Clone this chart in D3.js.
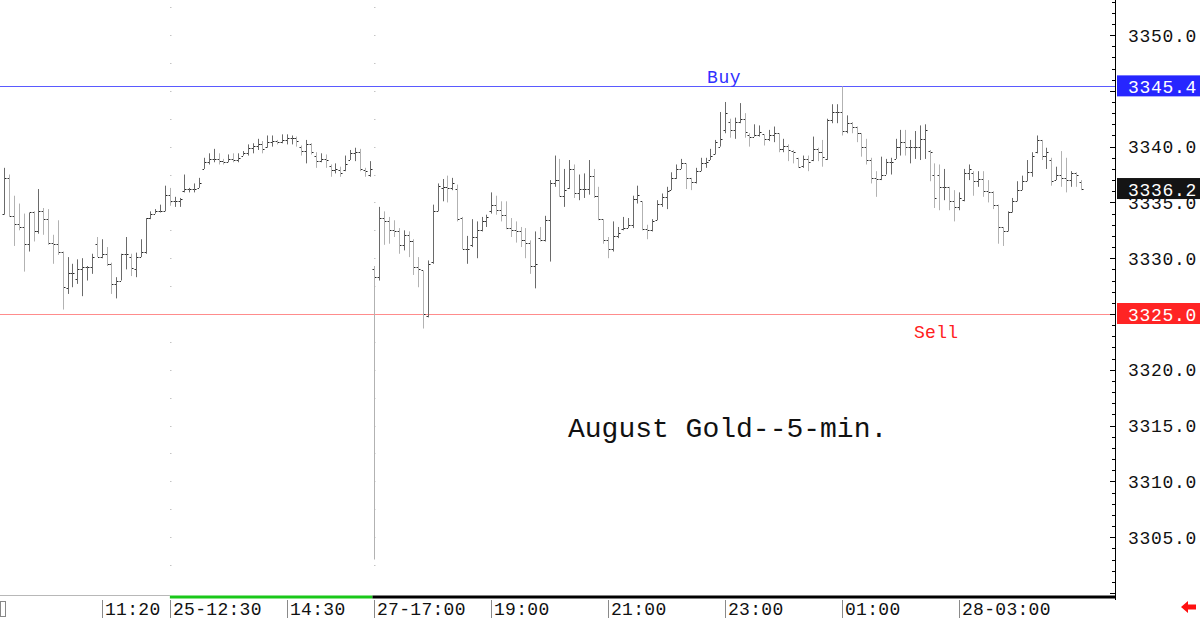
<!DOCTYPE html>
<html>
<head>
<meta charset="utf-8">
<script src="https://cdn.jsdelivr.net/npm/d3@7"></script>
<style>
  body { margin: 0; background: #fff; }
  svg { display: block; }
  text { font-family: "Liberation Mono", "DejaVu Sans Mono", monospace; }
</style>
</head>
<body>
<div id="chart"></div>
<script>
// 5-min bars, [open, high, low, close]; first session 25th 09:40 - 15:55
const sessionA = [
  [3334.0, 3338.1, 3333.9, 3337.2], [3337.2, 3337.5, 3333.7, 3333.8], [3333.8, 3335.6, 3331.1, 3333.1],
  [3333.1, 3334.9, 3332.5, 3332.8], [3332.8, 3334.0, 3328.8, 3331.3], [3331.3, 3334.1, 3330.6, 3334.1],
  [3334.1, 3334.2, 3331.5, 3332.4], [3332.4, 3336.2, 3332.2, 3334.2], [3334.2, 3334.5, 3332.1, 3333.5],
  [3333.5, 3334.4, 3331.2, 3331.4], [3331.4, 3332.1, 3329.5, 3331.3], [3331.3, 3333.4, 3330.3, 3330.6],
  [3330.6, 3330.6, 3325.4, 3327.4], [3327.3, 3330.1, 3326.8, 3328.7], [3328.7, 3329.5, 3327.4, 3328.7],
  [3328.1, 3329.9, 3327.7, 3329.0], [3329.0, 3330.0, 3326.6, 3329.2], [3329.2, 3329.3, 3328.0, 3329.2],
  [3329.2, 3330.4, 3328.6, 3330.1], [3331.3, 3331.9, 3330.1, 3330.1], [3330.1, 3331.7, 3330.0, 3330.4],
  [3330.4, 3331.0, 3329.3, 3329.5], [3329.5, 3329.6, 3326.8, 3327.7], [3327.7, 3328.3, 3326.4, 3328.0],
  [3328.0, 3330.4, 3328.0, 3330.4], [3330.4, 3331.9, 3329.0, 3330.4], [3330.1, 3330.4, 3328.4, 3329.1],
  [3329.0, 3330.5, 3328.3, 3330.1], [3330.1, 3331.7, 3330.1, 3330.6], [3330.6, 3333.6, 3330.4, 3333.6],
  [3333.6, 3334.2, 3333.5, 3334.0], [3334.0, 3334.4, 3334.0, 3334.2], [3334.2, 3334.8, 3334.1, 3334.2],
  [3334.2, 3336.5, 3334.2, 3335.7], [3335.7, 3336.3, 3334.7, 3335.1], [3335.1, 3335.5, 3334.6, 3335.1],
  [3335.1, 3335.4, 3334.6, 3335.3], [3336.0, 3337.5, 3335.9, 3336.2], [3336.2, 3336.3, 3335.9, 3336.2],
  [3336.2, 3336.7, 3335.9, 3336.2], [3336.3, 3337.2, 3336.3, 3336.7], [3338.0, 3339.0, 3338.0, 3338.6],
  [3338.6, 3339.4, 3338.4, 3338.9], [3338.9, 3339.8, 3338.6, 3338.9], [3338.9, 3339.4, 3338.4, 3338.7],
  [3338.7, 3338.9, 3338.4, 3338.6], [3338.6, 3339.3, 3338.6, 3338.9], [3338.9, 3339.4, 3338.6, 3338.8],
  [3338.8, 3339.4, 3338.6, 3339.0], [3339.2, 3339.6, 3339.2, 3339.4], [3339.4, 3340.2, 3339.2, 3339.9],
  [3339.9, 3340.3, 3339.4, 3340.1], [3340.1, 3340.7, 3339.7, 3340.2], [3340.2, 3340.5, 3339.4, 3339.8],
  [3340.0, 3341.0, 3339.9, 3340.4], [3340.4, 3341.0, 3340.0, 3340.5], [3340.5, 3340.6, 3340.2, 3340.4],
  [3340.4, 3341.1, 3340.3, 3340.6], [3340.6, 3341.1, 3340.2, 3340.8], [3340.8, 3341.0, 3340.2, 3340.8],
  [3340.8, 3340.9, 3340.0, 3340.5], [3340.0, 3340.1, 3339.2, 3339.6], [3339.6, 3340.6, 3338.5, 3340.2],
  [3340.2, 3340.3, 3339.3, 3339.5], [3339.2, 3339.5, 3338.1, 3338.7], [3338.7, 3339.4, 3338.6, 3338.9],
  [3338.9, 3339.3, 3338.1, 3338.8], [3338.3, 3338.4, 3337.3, 3337.9], [3337.9, 3338.5, 3337.6, 3338.0],
  [3337.9, 3338.2, 3337.3, 3337.6], [3337.9, 3339.2, 3337.8, 3338.4], [3338.8, 3339.7, 3338.8, 3339.4],
  [3339.4, 3339.9, 3338.7, 3339.5], [3339.5, 3339.8, 3337.8, 3338.0], [3337.9, 3338.1, 3337.3, 3337.8],
  [3337.5, 3338.7, 3337.3, 3338.0]
];

// second session 27th 17:00 - 28th 05:05
const sessionB = [
  [3329.0, 3329.3, 3303.0, 3328.3], [3328.3, 3334.6, 3328.0, 3333.6], [3333.6, 3334.2, 3331.2, 3333.3],
  [3333.3, 3333.7, 3331.3, 3332.5], [3332.5, 3333.4, 3331.9, 3332.4], [3332.4, 3332.7, 3330.4, 3331.2],
  [3331.2, 3332.5, 3330.7, 3332.1], [3332.1, 3332.4, 3330.1, 3331.5], [3331.5, 3331.7, 3328.5, 3329.2],
  [3329.2, 3330.1, 3327.4, 3329.0], [3328.9, 3328.9, 3323.7, 3325.0], [3324.8, 3329.8, 3324.7, 3329.5],
  [3329.7, 3334.8, 3329.5, 3334.2], [3334.2, 3336.7, 3334.2, 3336.5], [3336.3, 3337.1, 3335.1, 3336.4],
  [3336.4, 3337.4, 3335.0, 3336.3], [3336.3, 3337.2, 3336.1, 3336.7], [3336.2, 3336.6, 3333.3, 3333.5],
  [3333.6, 3333.7, 3330.8, 3330.8], [3330.8, 3332.0, 3329.5, 3330.8], [3331.2, 3333.5, 3331.0, 3331.9],
  [3331.9, 3333.3, 3330.0, 3332.5], [3332.5, 3333.7, 3332.4, 3333.3], [3333.3, 3333.9, 3332.8, 3333.7],
  [3334.2, 3335.9, 3334.0, 3334.8], [3334.8, 3335.6, 3333.9, 3334.3], [3334.3, 3335.1, 3333.3, 3333.9],
  [3333.9, 3335.1, 3332.6, 3332.7], [3332.7, 3333.6, 3331.9, 3332.5], [3332.5, 3333.3, 3331.4, 3332.4],
  [3332.4, 3332.8, 3331.0, 3331.6], [3331.6, 3332.7, 3330.0, 3331.4], [3331.4, 3331.6, 3328.6, 3329.3],
  [3329.3, 3332.4, 3327.3, 3329.5], [3331.8, 3332.8, 3331.5, 3331.6], [3331.6, 3333.8, 3331.5, 3333.4],
  [3333.4, 3337.0, 3329.7, 3336.7], [3336.7, 3339.2, 3336.4, 3337.0], [3337.0, 3338.9, 3335.5, 3335.6],
  [3335.6, 3338.0, 3334.6, 3336.1], [3336.3, 3338.8, 3336.2, 3338.0], [3338.0, 3338.4, 3335.4, 3335.8],
  [3335.8, 3337.5, 3335.2, 3336.2], [3336.2, 3337.6, 3335.4, 3336.2], [3336.2, 3338.8, 3335.7, 3337.4],
  [3337.4, 3338.0, 3335.4, 3335.6], [3335.6, 3336.4, 3333.4, 3333.5], [3333.5, 3333.5, 3331.3, 3331.6],
  [3331.6, 3331.9, 3330.0, 3330.8], [3330.8, 3333.3, 3330.6, 3332.0], [3332.0, 3332.8, 3331.8, 3332.3],
  [3332.6, 3333.7, 3332.5, 3332.7], [3332.7, 3333.6, 3332.7, 3333.0], [3333.0, 3335.6, 3332.7, 3335.3],
  [3335.3, 3336.5, 3334.9, 3335.7], [3335.1, 3335.1, 3332.5, 3332.6], [3332.6, 3333.0, 3331.7, 3332.5],
  [3332.5, 3333.5, 3332.4, 3333.3], [3333.4, 3335.2, 3333.4, 3334.9], [3334.9, 3335.8, 3334.6, 3335.5],
  [3335.5, 3336.4, 3334.4, 3336.0], [3336.1, 3337.7, 3336.1, 3337.2], [3337.2, 3338.4, 3337.1, 3338.0],
  [3338.0, 3338.9, 3338.0, 3338.5], [3338.5, 3338.5, 3336.2, 3337.2], [3337.2, 3337.2, 3336.1, 3336.8],
  [3336.8, 3338.1, 3336.7, 3337.8], [3337.8, 3339.0, 3337.8, 3338.5], [3338.5, 3339.0, 3338.1, 3338.6],
  [3338.8, 3339.8, 3338.8, 3339.2], [3339.3, 3340.6, 3339.3, 3340.4], [3340.0, 3343.1, 3340.0, 3340.7],
  [3341.5, 3344.0, 3341.2, 3343.0], [3342.2, 3342.5, 3340.8, 3341.5], [3341.5, 3342.6, 3340.7, 3342.2],
  [3342.2, 3343.9, 3342.1, 3342.5], [3342.5, 3343.0, 3340.8, 3341.3], [3341.0, 3341.2, 3340.0, 3340.9],
  [3340.9, 3342.0, 3340.9, 3341.0], [3341.0, 3341.9, 3340.9, 3341.3], [3341.1, 3341.1, 3340.1, 3340.7],
  [3340.7, 3341.5, 3340.5, 3341.0], [3341.0, 3341.8, 3340.4, 3341.2], [3341.2, 3341.2, 3339.5, 3339.8],
  [3339.8, 3340.7, 3339.5, 3340.1], [3340.1, 3340.2, 3338.7, 3339.7], [3339.6, 3339.7, 3338.5, 3339.5],
  [3339.0, 3339.0, 3338.1, 3338.2], [3338.3, 3339.2, 3338.1, 3338.9], [3338.9, 3339.2, 3337.8, 3338.6],
  [3338.8, 3340.9, 3338.7, 3339.8], [3339.8, 3339.9, 3338.7, 3339.5], [3339.5, 3340.6, 3338.2, 3339.1],
  [3338.9, 3342.5, 3338.8, 3342.4], [3342.4, 3343.8, 3342.1, 3343.1], [3343.1, 3343.8, 3342.1, 3343.1],
  [3343.1, 3345.4, 3341.0, 3341.4], [3341.4, 3342.8, 3341.2, 3342.1], [3342.1, 3342.2, 3341.2, 3341.8],
  [3341.8, 3341.8, 3340.4, 3341.2], [3341.2, 3341.2, 3339.1, 3340.0], [3340.0, 3340.7, 3338.4, 3338.8],
  [3338.8, 3339.0, 3336.7, 3337.2], [3337.2, 3337.8, 3335.5, 3337.1], [3337.1, 3339.1, 3337.0, 3337.5],
  [3337.5, 3338.9, 3337.5, 3338.6], [3338.6, 3339.0, 3337.5, 3338.6], [3338.9, 3340.7, 3338.9, 3340.0],
  [3340.0, 3341.5, 3339.2, 3340.4], [3340.4, 3341.5, 3339.2, 3340.0], [3340.0, 3340.6, 3338.5, 3340.0],
  [3340.0, 3341.4, 3338.9, 3340.0], [3340.0, 3341.9, 3338.8, 3340.7], [3340.7, 3342.0, 3338.9, 3341.5],
  [3339.6, 3339.7, 3336.9, 3339.5], [3337.5, 3338.5, 3334.5, 3335.4], [3337.5, 3338.4, 3334.3, 3336.4],
  [3336.4, 3338.0, 3335.2, 3336.4], [3336.4, 3336.4, 3334.3, 3335.1], [3335.1, 3336.1, 3333.3, 3334.6],
  [3334.6, 3335.9, 3334.3, 3335.4], [3335.2, 3338.0, 3335.1, 3337.6], [3337.6, 3338.4, 3337.0, 3338.0],
  [3337.6, 3337.8, 3335.6, 3336.9], [3336.9, 3337.8, 3336.4, 3337.1], [3337.1, 3337.8, 3335.5, 3336.0],
  [3336.0, 3337.0, 3335.0, 3335.9], [3335.9, 3336.0, 3334.4, 3334.8], [3334.8, 3334.8, 3331.3, 3332.8],
  [3332.8, 3332.8, 3331.1, 3332.4], [3332.4, 3334.2, 3332.4, 3334.1], [3334.1, 3335.4, 3334.1, 3335.1],
  [3335.1, 3336.9, 3335.1, 3336.1], [3336.1, 3337.4, 3336.1, 3336.9], [3336.9, 3338.8, 3336.9, 3337.7],
  [3337.7, 3339.5, 3337.3, 3339.2], [3339.5, 3341.0, 3339.4, 3340.6], [3340.6, 3340.6, 3338.8, 3339.2],
  [3339.2, 3339.9, 3338.0, 3339.5], [3338.8, 3339.0, 3336.5, 3336.9], [3337.0, 3338.2, 3337.0, 3337.5],
  [3337.5, 3339.6, 3336.4, 3337.2], [3337.2, 3339.0, 3335.9, 3337.0], [3337.0, 3337.8, 3336.4, 3337.6],
  [3337.6, 3337.7, 3336.4, 3337.5], [3336.8, 3337.0, 3336.1, 3336.2]
];

const tickLabels = ["11:20", "25-12:30", "14:30", "27-17:00", "19:00", "21:00", "23:00", "01:00", "28-03:00"];
const tickBars = [20, 34, 58, 76, 100, 124, 148, 172, 196];
// 3345.0 sits under the Buy tag and is not printed
const priceTicks = [3305, 3310, 3315, 3320, 3325, 3330, 3335, 3340, 3350];
const dayStartBars = [34, 76];
const buyLevel = 3345.4;
const sellLevel = 3325.0;
const lastPrice = 3336.2;

const W = 1200, H = 620;
const plotRight = 1115, plotBottom = 597;

const bars = sessionA.concat(sessionB).map((d, i) => ({ i: i, o: d[0], h: d[1], l: d[2], c: d[3] }));

const x = d3.scaleLinear().domain([-0.883, 228.07]).range([0, plotRight]);
const y = d3.scaleLinear().domain([3299.64, 3353.14]).range([plotBottom, 0]);

const svg = d3.select("#chart").append("svg")
  .attr("width", W)
  .attr("height", H);

svg.append("rect").attr("width", W).attr("height", H).attr("fill", "#fff");

// faint dotted grid at day starts
dayStartBars.forEach(b => {
  const gx = Math.round(x(b));
  svg.append("g").selectAll("rect")
    .data(d3.range(3302.5, 3352.6, 2.5))
    .enter().append("rect")
    .attr("x", gx)
    .attr("y", d => Math.round(y(d)))
    .attr("width", 1.5).attr("height", 1)
    .attr("fill", "#c4c4c4");
});

// buy / sell levels
svg.append("line")
  .attr("x1", 0).attr("x2", plotRight)
  .attr("y1", Math.round(y(buyLevel)) + 0.5).attr("y2", Math.round(y(buyLevel)) + 0.5)
  .attr("stroke", "#5a5aff").attr("stroke-width", 1);
svg.append("line")
  .attr("x1", 0).attr("x2", plotRight)
  .attr("y1", Math.round(y(sellLevel)) + 0.5).attr("y2", Math.round(y(sellLevel)) + 0.5)
  .attr("stroke", "#ff8c8c").attr("stroke-width", 1);

// OHLC bars
const barG = svg.append("g").attr("class", "bars");
const bar = barG.selectAll("g").data(bars).enter().append("g");
const bx = d => Math.round(x(d.i)) + 0.5;

bar.append("line")
  .attr("x1", bx).attr("x2", bx)
  .attr("y1", d => y(d.h)).attr("y2", d => y(d.l))
  .attr("stroke", d => d.c >= d.o ? "#6a6a6a" : "#b2b2b2")
  .attr("stroke-width", 1);
bar.append("line")
  .attr("x1", d => bx(d) - 2).attr("x2", d => bx(d) - 0.5)
  .attr("y1", d => Math.round(y(d.o)) + 0.5).attr("y2", d => Math.round(y(d.o)) + 0.5)
  .attr("stroke", "#333").attr("stroke-width", 1);
bar.append("line")
  .attr("x1", d => bx(d) + 0.5).attr("x2", d => bx(d) + 2)
  .attr("y1", d => Math.round(y(d.c)) + 0.5).attr("y2", d => Math.round(y(d.c)) + 0.5)
  .attr("stroke", "#222").attr("stroke-width", 1);

// texts in the plot
svg.append("text")
  .attr("x", 707).attr("y", 83)
  .attr("font-size", 18).attr("letter-spacing", 0.6)
  .attr("fill", "#3030ff")
  .text("Buy");
svg.append("text")
  .attr("x", 914).attr("y", 338)
  .attr("font-size", 18).attr("letter-spacing", 0.3)
  .attr("fill", "#ff2020")
  .text("Sell");
svg.append("text")
  .attr("x", 568).attr("y", 437)
  .attr("font-size", 28)
  .attr("fill", "#111")
  .text("August Gold--5-min.");

// right price axis
const axisG = svg.append("g");
axisG.append("line")
  .attr("x1", plotRight + 0.5).attr("x2", plotRight + 0.5)
  .attr("y1", 0).attr("y2", plotBottom + 3)
  .attr("stroke", "#000");
axisG.selectAll("line.minor")
  .data(d3.range(3300, 3354, 1))
  .enter().append("line")
  .attr("class", "minor")
  .attr("x1", d => d % 5 === 0 ? plotRight - 5 : plotRight - 3)
  .attr("x2", plotRight)
  .attr("y1", d => Math.round(y(d)) + 0.5)
  .attr("y2", d => Math.round(y(d)) + 0.5)
  .attr("stroke", "#000");

axisG.selectAll("text.price")
  .data(priceTicks)
  .enter().append("text")
  .attr("class", "price")
  .attr("x", 1128)
  .attr("y", d => y(d) + 6.5)
  .attr("font-size", 18).attr("letter-spacing", 0.7)
  .attr("fill", "#111")
  .text(d => d.toFixed(1));

// highlighted level labels
const levelTags = [
  { v: buyLevel, fill: "#2626ff" },
  { v: lastPrice, fill: "#141414" },
  { v: sellLevel, fill: "#ff2424" }
];
levelTags.forEach(t => {
  const cy = y(t.v);
  axisG.append("rect")
    .attr("x", plotRight + 2).attr("y", cy - 11)
    .attr("width", W - plotRight - 2).attr("height", 21)
    .attr("fill", t.fill);
  axisG.append("text")
    .attr("x", 1128).attr("y", cy + 6.5)
    .attr("font-size", 18).attr("letter-spacing", 0.7)
    .attr("fill", "#fff")
    .text(t.v.toFixed(1));
});

// bottom time axis
const xg = svg.append("g");
xg.append("line")
  .attr("x1", 0).attr("x2", x(34))
  .attr("y1", plotBottom - 1.5).attr("y2", plotBottom - 1.5)
  .attr("stroke", "#b8b8b8").attr("stroke-width", 1);
xg.append("line")
  .attr("x1", x(34)).attr("x2", x(75.6))
  .attr("y1", plotBottom).attr("y2", plotBottom)
  .attr("stroke", "#19c819").attr("stroke-width", 3);
xg.append("line")
  .attr("x1", x(75.6)).attr("x2", plotRight)
  .attr("y1", plotBottom).attr("y2", plotBottom)
  .attr("stroke", "#000").attr("stroke-width", 3);

xg.selectAll("line.sep")
  .data(tickBars)
  .enter().append("line")
  .attr("class", "sep")
  .attr("x1", d => Math.round(x(d)) + 0.5).attr("x2", d => Math.round(x(d)) + 0.5)
  .attr("y1", 600).attr("y2", 618)
  .attr("stroke", "#8a8a8a");

xg.selectAll("text.time")
  .data(tickLabels)
  .enter().append("text")
  .attr("class", "time")
  .attr("x", (d, i) => Math.round(x(tickBars[i])) + 3)
  .attr("y", 615)
  .attr("font-size", 18).attr("letter-spacing", 0.3)
  .attr("fill", "#111")
  .text(d => d);

// little scroll box at the bottom left
xg.append("rect")
  .attr("x", 0.5).attr("y", 601.5)
  .attr("width", 5).attr("height", 15)
  .attr("fill", "none").attr("stroke", "#888");

// red arrow at bottom right
svg.append("path")
  .attr("d", "M1181,607 L1188,601 L1188,604.5 L1196,604.5 L1196,609.5 L1188,609.5 L1188,613 Z")
  .attr("fill", "#ff1010");
</script>
</body>
</html>
